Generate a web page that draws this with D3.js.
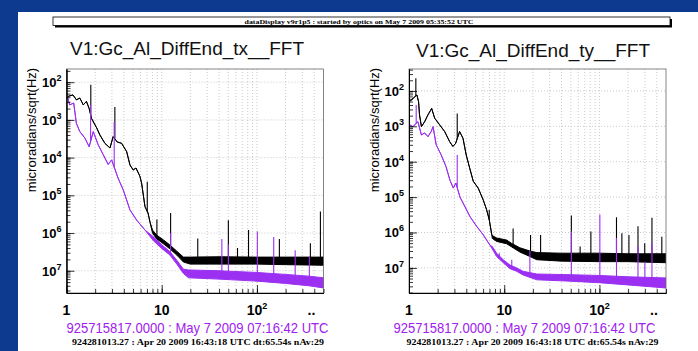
<!DOCTYPE html>
<html>
<head>
<meta charset="utf-8">
<script src="https://cdn.jsdelivr.net/npm/d3@7"></script>
<style>
  body { margin: 0; background: #fff; }
  text { font-family: "Liberation Sans", Arial, sans-serif; }
</style>
</head>
<body>
<svg id="chart" width="698" height="351"></svg>
<script>
// ---- data (frequency in Hz, amplitude) ----
const bannerText = "dataDisplay v9r1p5 : started by optics on May 7 2009 05:35:52 UTC";
const titles = ["V1:Gc_Al_DiffEnd_tx__FFT", "V1:Gc_Al_DiffEnd_ty__FFT"];
const yLabel = "microradians/sqrt(Hz)";
const stampText = "925715817.0000 : May  7 2009 07:16:42 UTC";
const refText = "924281013.27 : Apr 20 2009 16:43:18 UTC dt:65.54s nAv:29";

const xTicks = [1, 10, 100];
const xTickBase = ["1", "10", "10"];
const xTickSup = ["", "", "2"];
// the source prints the exponents without their minus sign
const yTickExp = [2, 3, 4, 5, 6, 7];

// tx panel
const txBlackTrace = [[1.04,4.2e-3],[1.17,4.6e-3],[1.27,3.4e-3],[1.38,3.8e-3],[1.50,2.5e-3],[1.62,3.1e-3],[1.73,2.0e-3],[1.83,1.1e-3],[2.07,6.2e-4],[2.24,4.0e-4],[2.53,2.4e-4],[2.86,1.8e-4],[3.09,3.6e-4],[3.41,2.6e-4],[3.79,2.4e-4],[4.28,1.45e-4],[4.64,6.4e-5],[5.02,4.7e-5],[5.37,5.3e-5],[5.9,3.2e-5],[6.15,2.1e-5],[6.67,5.0e-6],[7.18,3.4e-6],[7.53,1.95e-6]];
const txBlackBand = [[8.0,1.0e-6,1.2e-6],[8.86,7e-7,8.8e-7],[10.4,5.2e-7,6.6e-7],[12.2,3.8e-7,4.8e-7],[14.4,2.6e-7,3.3e-7],[16.9,1.7e-7,2.3e-7],[20,1.5e-7,2.3e-7],[40,1.5e-7,2.35e-7],[100,1.5e-7,2.3e-7],[200,1.45e-7,2.3e-7],[500,1.4e-7,2.3e-7]];
const txBlackSpikes = [[1.80,8.5e-3],[3.22,2.2e-3],[7.05,2.3e-5],[8.9,2.3e-6],[12.4,3.4e-6],[23.9,7.2e-7],[50.1,2.2e-6],[62.5,4e-7],[81.6,1.2e-6],[172,6.9e-7],[364,5.4e-7],[464,3.7e-6]];
const txPurpleTrace = [[1.0,5.1e-3],[1.08,2.5e-3],[1.19,2.8e-3],[1.27,8.1e-4],[1.38,4.9e-4],[1.56,3.3e-4],[1.73,1.95e-4],[1.91,4.9e-4],[2.15,2.2e-4],[2.43,1.2e-4],[2.74,6.6e-5],[2.98,8.7e-5],[3.49,2.8e-5],[3.94,1.4e-5],[4.64,4.1e-6],[5.46,2.2e-6],[6.67,1.2e-6]];
const txPurpleBand = [[8.16,6.3e-7,8e-7],[10,3.9e-7,4.9e-7],[12.2,2.6e-7,3.2e-7],[14.4,1.5e-7,1.9e-7],[16.9,8.5e-8,1.1e-7],[19.1,6.5e-8,1.05e-7],[40,6e-8,1.0e-7],[100,5.3e-8,9e-8],[200,4.6e-8,8e-8],[350,4e-8,7.2e-8],[500,3.5e-8,6.5e-8]];
const txPurpleSpikes = [[1.79,2.5e-3],[3.17,9e-4],[12.4,1.0e-6],[42.8,6.9e-7],[50.1,5e-7],[101,1.1e-6],[150,7.8e-7],[252,3.5e-7],[355,2.3e-7]];

// ty panel
const tyBlackTrace = [[1.02,5e-3],[1.06,5.6e-3],[1.21,7.7e-3],[1.26,5e-3],[1.29,2.1e-3],[1.35,9.8e-4],[1.46,1.35e-3],[1.58,2.1e-3],[1.73,3.2e-3],[1.86,1.7e-3],[2.10,1.1e-3],[2.37,7.1e-4],[2.67,3.7e-4],[2.89,2.7e-4],[3.09,3.3e-4],[3.40,7.1e-4],[3.69,4.6e-4],[3.99,1.55e-4],[4.34,6.6e-5],[4.73,2.8e-5],[5.33,1.8e-5],[6.02,8.3e-6],[6.53,4.4e-6],[6.96,2.3e-6],[7.38,9e-7]];
const tyBlackBand = [[7.5,6.8e-7,8.2e-7],[8.32,5.6e-7,7e-7],[10.6,4.8e-7,6.1e-7],[12.0,3.9e-7,4.9e-7],[14.6,2.8e-7,3.7e-7],[18.6,2.1e-7,3e-7],[22,1.7e-7,2.7e-7],[40,1.55e-7,2.6e-7],[100,1.5e-7,2.6e-7],[200,1.5e-7,2.5e-7],[500,1.4e-7,2.5e-7]];
const tyBlackSpikes = [[1.18,2.3e-2],[3.21,2.3e-3],[6.96,4.4e-6],[12.4,1.3e-6],[18.9,8.5e-7],[24.1,8.5e-7],[50.7,3e-6],[62.7,4e-7],[81.3,1.07e-6],[151,2.7e-6],[172,9.5e-7],[204,8.5e-7],[254,1.5e-6],[299,5e-7],[356,2.6e-6],[452,7.6e-7]];
const tyPurpleTrace = [[1.02,1.1e-3],[1.10,9.8e-4],[1.24,1.35e-3],[1.35,5.7e-4],[1.46,6.5e-4],[1.58,5.1e-4],[1.71,7.1e-4],[1.79,9.8e-4],[1.93,3e-4],[2.18,1.55e-4],[2.46,7e-5],[2.69,3e-5],[2.92,1.8e-5],[3.11,2.5e-5],[3.43,1.0e-5],[3.71,6.7e-6],[4.37,2.8e-6],[5.13,1.5e-6],[6.02,8.6e-7],[7.08,4.4e-7]];
const tyPurpleBand = [[7.5,3.4e-7,4e-7],[8.32,2.1e-7,2.6e-7],[9.77,1.4e-7,1.7e-7],[11.5,9.5e-8,1.2e-7],[13.5,8e-8,1e-7],[15.8,6.3e-8,8e-8],[22,4.6e-8,6.7e-8],[50,4.2e-8,6.4e-8],[100,3.8e-8,6.1e-8],[200,3.3e-8,5.6e-8],[500,2.7e-8,5.2e-8]];
const tyPurpleSpikes = [[1.19,4e-3],[3.21,1.55e-4],[8.87,2.6e-7],[12,1.7e-7],[18.6,3e-7],[50.7,1.07e-6],[101,3.2e-6],[151,7e-7],[254,4e-7],[300,1.5e-7],[356,5e-7]];

// ---- layout ----
const purple = "#9b30f2";
const stampPurple = "#a020f0";
const plotTop = 69, plotBottom = 293;
const xDomain = [1, 500];

const panels = [
  { left: 66.5, right: 323.5, yDomain: [Math.pow(10, -1.65), Math.pow(10, -7.59)],
    titleX: 187, titleY: 55, yLabelX: 36, stampX: 197.5, refX: 198,
    black: [txBlackTrace, txBlackBand, txBlackSpikes], violet: [txPurpleTrace, txPurpleBand, txPurpleSpikes] },
  { left: 409, right: 666, yDomain: [Math.pow(10, -1.38), Math.pow(10, -7.71)],
    titleX: 533, titleY: 57, yLabelX: 379, stampX: 524.5, refX: 532.5,
    black: [tyBlackTrace, tyBlackBand, tyBlackSpikes], violet: [tyPurpleTrace, tyPurpleBand, tyPurpleSpikes] }
];

const svg = d3.select("#chart");

// slide background
svg.append("rect").attr("width", 698).attr("height", 351).attr("fill", "#0d3a8f");
svg.append("rect").attr("x", 18).attr("y", 12).attr("width", 680).attr("height", 339).attr("fill", "#fff");

// banner
svg.append("rect").attr("x", 55).attr("y", 19).attr("width", 617).attr("height", 8.5).attr("fill", "#000");
svg.append("rect").attr("x", 53).attr("y", 17).attr("width", 617).attr("height", 8.5)
  .attr("fill", "#fff").attr("stroke", "#000").attr("stroke-width", 0.8);
svg.append("text").attr("x", 359).attr("y", 24).attr("text-anchor", "middle")
  .style("font-family", "'Liberation Serif', serif").style("font-weight", "bold").style("font-size", "7px")
  .attr("textLength", 229).attr("lengthAdjust", "spacingAndGlyphs")
  .text(bannerText);

function decadeMinors(lo, hi) {
  const out = [];
  for (let e = Math.floor(Math.log10(lo)); e <= Math.ceil(Math.log10(hi)); e++) {
    for (let m = 1; m <= 9; m++) {
      const v = m * Math.pow(10, e);
      if (v >= lo * 0.999 && v <= hi * 1.001) out.push(v);
    }
  }
  return out;
}

function envelope(trace, band) {
  return trace.map(d => [d[0], d[1], d[1]]).concat(band);
}

// log-interpolated lower edge of an envelope at frequency f
function lowerAt(env, f) {
  const i = d3.bisector(d => d[0]).left(env, f);
  if (i <= 0) return env[0][1];
  if (i >= env.length) return env[env.length - 1][1];
  const a = env[i - 1], b = env[i];
  const t = (Math.log(f) - Math.log(a[0])) / (Math.log(b[0]) - Math.log(a[0]));
  return Math.exp(Math.log(a[1]) + t * (Math.log(b[1]) - Math.log(a[1])));
}

panels.forEach((p, k) => {
  const g = svg.append("g");
  const x = d3.scaleLog().domain(xDomain).range([p.left, p.right]);
  const y = d3.scaleLog().domain(p.yDomain).range([plotTop, plotBottom]);
  const yLo = Math.min(...p.yDomain), yHi = Math.max(...p.yDomain);

  const clipId = `clip-${k}`;
  g.append("clipPath").attr("id", clipId).append("rect")
    .attr("x", p.left).attr("y", plotTop).attr("width", p.right - p.left).attr("height", plotBottom - plotTop);

  // title
  g.append("text").attr("x", p.titleX).attr("y", p.titleY).attr("text-anchor", "middle")
    .style("font-size", "19px").attr("fill", "#111").text(titles[k]);

  // grid
  const xMinor = decadeMinors(xDomain[0], xDomain[1]);
  const yMajor = yTickExp.map(e => Math.pow(10, -e));
  const yMinor = decadeMinors(yLo, yHi);
  g.append("g").selectAll("line").data(xMinor.filter(v => v > 1 && v < 500)).join("line")
    .attr("x1", d => x(d)).attr("x2", d => x(d)).attr("y1", plotTop).attr("y2", plotBottom)
    .attr("stroke", "#bdbdbd").attr("stroke-width", 0.8).attr("stroke-dasharray", "1,2");
  g.append("g").selectAll("line").data(yMajor).join("line")
    .attr("x1", p.left).attr("x2", p.right).attr("y1", d => y(d)).attr("y2", d => y(d))
    .attr("stroke", "#bdbdbd").attr("stroke-width", 0.8).attr("stroke-dasharray", "1,2");

  // series: black first, violet on top
  const area = d3.area().x(d => x(d[0])).y0(d => y(d[1])).y1(d => y(d[2]));
  const series = [[p.black, "#000"], [p.violet, purple]];
  series.forEach(([s, color]) => {
    const env = envelope(s[0], s[1]);
    const sg = g.append("g").attr("clip-path", `url(#${clipId})`);
    sg.append("path").datum(env).attr("d", area)
      .attr("fill", color).attr("stroke", color).attr("stroke-width", 1).attr("stroke-linejoin", "round");
    sg.selectAll("line").data(s[2]).join("line")
      .attr("x1", d => x(d[0])).attr("x2", d => x(d[0]))
      .attr("y1", d => y(d[1])).attr("y2", d => y(lowerAt(env, d[0])))
      .attr("stroke", color).attr("stroke-width", 1.1);
  });

  // frame
  g.append("rect").attr("x", p.left).attr("y", plotTop).attr("width", p.right - p.left).attr("height", plotBottom - plotTop)
    .attr("fill", "none").attr("stroke", "#666").attr("stroke-width", 0.8);

  // axes, ticks pointing inward
  const axX = g.append("g").attr("transform", `translate(0,${plotBottom})`);
  axX.call(d3.axisBottom(x).tickValues(xMinor).tickSize(-4).tickSizeOuter(0).tickFormat(""));
  axX.append("g").call(d3.axisBottom(x).tickValues(xTicks).tickSize(-8).tickSizeOuter(0).tickFormat(""));
  const axY = g.append("g").attr("transform", `translate(${p.left},0)`);
  axY.call(d3.axisLeft(y).tickValues(yMinor).tickSize(-4).tickSizeOuter(0).tickFormat(""));
  axY.append("g").call(d3.axisLeft(y).tickValues(yMajor).tickSize(-8).tickSizeOuter(0).tickFormat(""));
  g.selectAll(".domain").attr("stroke", "#000").attr("stroke-width", 1);
  g.selectAll(".tick line").attr("stroke", "#000").attr("stroke-width", 0.8);

  // y tick labels
  g.append("g").selectAll("text").data(yTickExp).join("text")
    .attr("x", p.left - 5).attr("y", d => y(Math.pow(10, -d)) + 5)
    .attr("text-anchor", "end").style("font-size", "13px").style("font-weight", "bold")
    .each(function(d) {
      const t = d3.select(this);
      t.append("tspan").text("10");
      t.append("tspan").attr("dy", -6).style("font-size", "9px").text(d);
    });

  // x tick labels
  g.append("g").selectAll("text").data(xTicks).join("text")
    .attr("x", d => x(d)).attr("y", 315)
    .attr("text-anchor", "middle").style("font-size", "14px").style("font-weight", "bold")
    .each(function(d, i) {
      const t = d3.select(this);
      t.append("tspan").text(xTickBase[i]);
      if (xTickSup[i]) t.append("tspan").attr("dy", -6).style("font-size", "9px").text(xTickSup[i]);
    });
  g.append("text").attr("x", p.right - 12).attr("y", 315).attr("text-anchor", "middle")
    .style("font-size", "14px").style("font-weight", "bold").text("..");

  // y axis title
  g.append("text").attr("transform", `translate(${p.yLabelX},${130}) rotate(-90)`)
    .attr("text-anchor", "middle").style("font-size", "13px").text(yLabel);

  // time stamps
  g.append("text").attr("x", p.stampX).attr("y", 333).attr("text-anchor", "middle")
    .style("font-size", "14.5px").attr("fill", stampPurple)
    .attr("textLength", 262).attr("lengthAdjust", "spacingAndGlyphs").text(stampText);
  g.append("text").attr("x", p.refX).attr("y", 345).attr("text-anchor", "middle")
    .style("font-family", "'Liberation Serif', serif").style("font-weight", "bold").style("font-size", "9px")
    .attr("textLength", 252).attr("lengthAdjust", "spacingAndGlyphs").text(refText);
});
</script>
</body>
</html>
